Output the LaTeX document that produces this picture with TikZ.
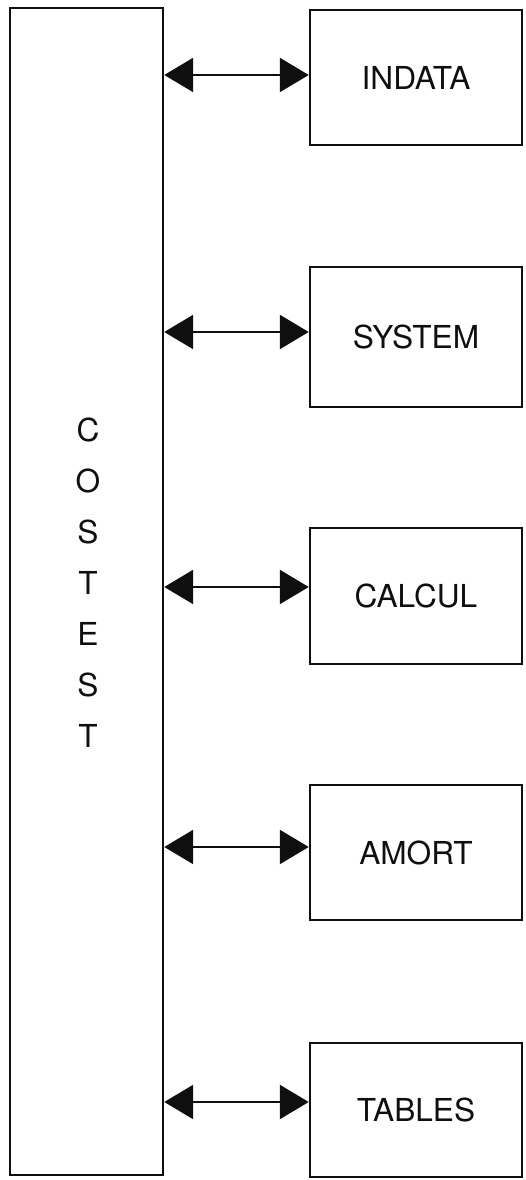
\documentclass[tikz,border=0pt]{standalone}
\usepackage{fontspec}
\setsansfont{TeX Gyre Heros}
\usepackage{xcolor}
\definecolor{inkblack}{RGB}{15,15,15}
\usetikzlibrary{arrows.meta, positioning}

\tikzset{
  modbox/.style={draw=inkblack, line width=1.4pt, minimum width=4.24cm, minimum height=2.7cm,
    font=\sffamily\fontsize{18}{21}\selectfont, text=inkblack},
  link/.style={line width=1.3pt, draw=inkblack,
    {Triangle[length=5.8mm,width=6.8mm]}-{Triangle[length=5.8mm,width=6.8mm]}}
}

\begin{document}
\begin{tikzpicture}
      \useasboundingbox (0,0) rectangle (10.52,23.6);

      % Main program column
      \node[draw=inkblack, line width=1.4pt, minimum width=3.06cm, minimum height=23.34cm] (costest) at (1.73,11.77) {};
      \node[font=\sffamily\fontsize{18}{29}\selectfont, text=inkblack, align=center] (costestlabel) at (1.76,11.94) {C\\O\\S\\T\\E\\S\\T};

      % Modules (right side)
      \node[modbox, minimum height=2.7cm] (indata) at (8.32,22.05) {INDATA};
      \node[modbox, minimum height=2.8cm] (system) at (8.32,16.86) {SYSTEM};
      \node[modbox, minimum height=2.72cm] (calcul) at (8.32,11.68) {CALCUL};
      \node[modbox, minimum height=2.7cm] (amort) at (8.32,6.55) {AMORT};
      \node[modbox, minimum height=2.68cm] (tables) at (8.32,1.4) {TABLES};

      % Links between main program and modules (a bit above the box centres)
      \draw[link] ([yshift=0.5mm]indata.west -| costest.east) -- ([yshift=0.5mm]indata.west);
      \draw[link] ([yshift=1mm]system.west -| costest.east) -- ([yshift=1mm]system.west);
      \draw[link] ([yshift=1.8mm]calcul.west -| costest.east) -- ([yshift=1.8mm]calcul.west);
      \draw[link] ([yshift=1.1mm]amort.west -| costest.east) -- ([yshift=1.1mm]amort.west);
      \draw[link] ([yshift=1.6mm]tables.west -| costest.east) -- ([yshift=1.6mm]tables.west);
\end{tikzpicture}
\end{document}
